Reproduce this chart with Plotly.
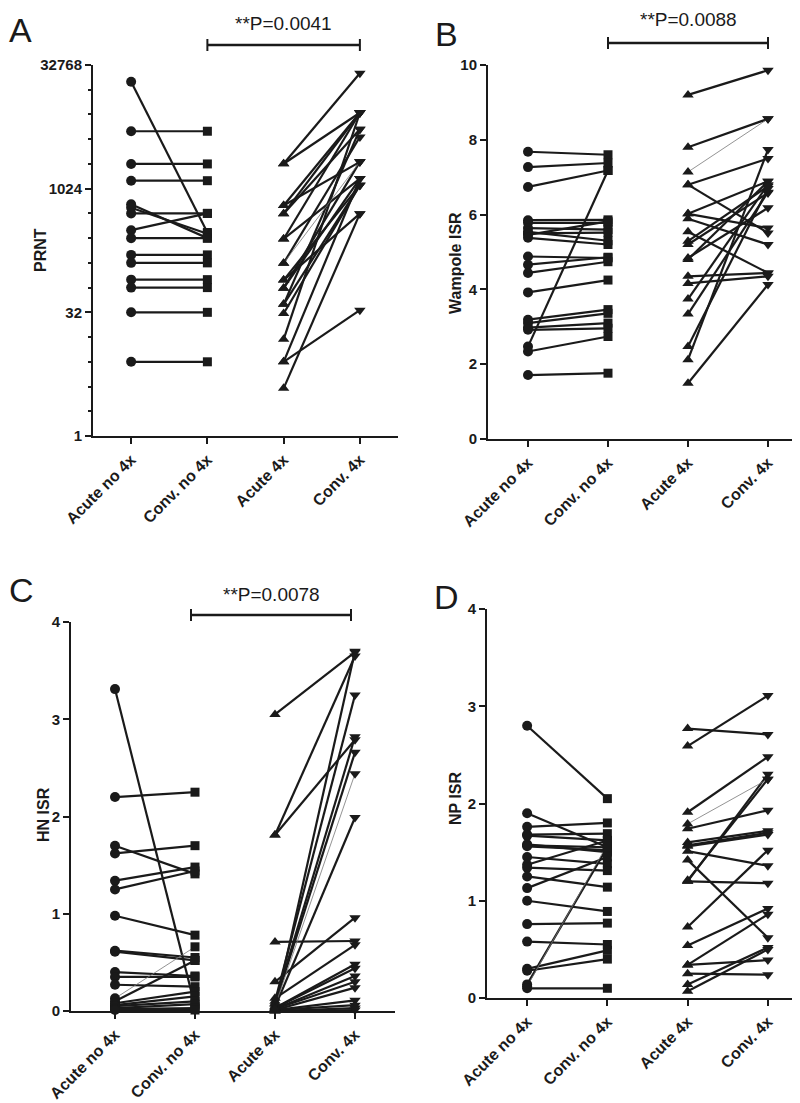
import math
import plotly.graph_objects as go

categories = ["Acute no 4x", "Conv. no 4x", "Acute 4x", "Conv. 4x"]

# ---------------- Panel A: PRNT ----------------
prnt_acute_no4x = [20480, 5120, 2048, 1280, 660, 600, 512, 320, 256, 160, 128, 80, 64, 32, 8]
prnt_conv_no4x = [300, 5120, 2048, 1280, 256, 290, 512, 512, 256, 160, 128, 80, 64, 32, 8]
prnt_acute_4x = [2060, 2060, 640, 640, 508, 508, 250, 250, 127, 127, 79, 79, 63, 63, 40, 40, 31, 15, 8, 8, 3.8]
prnt_conv_4x = [26000, 8600, 8600, 2170, 8600, 5400, 8600, 1360, 4360, 2170, 1130, 508, 2170, 1360, 5400, 1130, 1130, 8600, 34, 1360, 508]
prnt_ticks = [1, 32, 1024, 32768]

# ---------------- Panel B: Wampole ISR ----------------
wam_acute_no4x = [7.68, 7.27, 6.74, 5.85, 5.78, 5.64, 5.54, 5.50, 5.46, 5.38, 4.88, 4.66, 4.44, 3.92, 3.19, 3.10, 2.98, 2.92, 2.47, 2.34, 1.71]
wam_conv_no4x = [7.60, 7.38, 7.18, 5.86, 5.78, 5.60, 5.30, 5.52, 5.82, 5.20, 4.84, 4.86, 4.74, 4.25, 3.46, 3.36, 3.10, 2.96, 7.18, 2.74, 1.76]
wam_acute_4x = [9.20, 7.80, 7.14, 6.80, 6.80, 6.02, 6.02, 5.89, 5.54, 5.29, 5.20, 4.84, 4.80, 4.35, 4.16, 3.74, 3.34, 2.47, 2.12, 1.49]
wam_conv_4x = [9.86, 8.56, 8.56, 7.50, 5.51, 6.89, 5.64, 5.20, 4.44, 6.76, 6.58, 6.18, 6.89, 4.44, 4.35, 6.80, 6.60, 6.70, 7.74, 4.13]
wam_ticks = [0, 2, 4, 6, 8, 10]

# ---------------- Panel C: HN ISR ----------------
hn_acute_no4x = [3.31, 2.20, 1.70, 1.62, 1.34, 1.25, 0.98, 0.62, 0.61, 0.40, 0.35, 0.27, 0.13, 0.10, 0.08, 0.06, 0.05, 0.03, 0.02, 0.01]
hn_conv_no4x = [0.05, 2.25, 1.41, 1.70, 1.48, 1.44, 0.78, 0.55, 0.52, 0.36, 0.35, 0.25, 0.66, 0.52, 0.20, 0.15, 0.10, 0.07, 0.03, 0.01]
hn_acute_4x = [3.05, 1.81, 1.81, 0.71, 0.30, 0.13, 0.10, 0.08, 0.07, 0.05, 0.04, 0.03, 0.03, 0.02, 0.02, 0.01, 0.01, 0.01, 0.00, 0.00, 0.02]
hn_conv_4x = [3.69, 3.65, 2.79, 0.72, 0.96, 0.68, 3.25, 2.82, 2.66, 2.44, 1.99, 0.48, 0.44, 0.36, 0.30, 0.24, 0.11, 0.06, 0.03, 0.01, 3.70]
hn_ticks = [0, 1, 2, 3, 4]

# ---------------- Panel D: NP ISR ----------------
np_acute_no4x = [2.80, 1.90, 1.76, 1.68, 1.67, 1.58, 1.57, 1.56, 1.45, 1.37, 1.34, 1.25, 1.13, 1.00, 0.76, 0.58, 0.30, 0.28, 0.14, 0.12, 0.10]
np_conv_no4x = [2.05, 1.55, 1.80, 1.69, 1.62, 1.50, 1.55, 1.52, 1.38, 1.62, 1.31, 1.14, 1.45, 0.89, 0.77, 0.55, 0.49, 0.40, 1.55, 1.58, 0.10]
np_acute_4x = [2.77, 2.59, 1.91, 1.79, 1.74, 1.60, 1.57, 1.56, 1.51, 1.42, 1.21, 1.20, 1.20, 0.73, 0.54, 0.34, 0.34, 0.25, 0.14, 0.07]
np_conv_4x = [2.71, 3.11, 2.48, 2.25, 1.93, 1.72, 1.70, 1.68, 1.36, 0.62, 2.25, 2.30, 1.18, 1.52, 0.92, 0.86, 0.39, 0.24, 0.52, 0.50]
np_ticks = [0, 1, 2, 3, 4]

titles = ["PRNT", "Wampole ISR", "HN ISR", "NP ISR"]
panel_letters = ["A", "B", "C", "D"]
p_values = ["**P=0.0041", "**P=0.0088", "**P=0.0078", None]

# thin (grey) connecting lines, by pair index: (no4x list, 4x list)
thin_pairs = [([], [9]), ([], [2]), ([12], [9]), ([19], [3])]

W, H = 800, 1103
INK = "#1a1a1a"
FONT = "Liberation Sans, Arial, sans-serif"


def px(x):
    return x / W


def py(y):
    return 1 - y / H


# panel geometry in pixels: (x0, x1, ytop, ybottom, xrange_left)
geom = [
    (85, 390, 57, 428, -0.5),
    (480, 800, 57, 431, -0.5),
    (63, 387, 614, 1003, -0.55),
    (479, 800, 601, 990, -0.5),
]

panels = [
    (prnt_acute_no4x, prnt_conv_no4x, prnt_acute_4x, prnt_conv_4x),
    (wam_acute_no4x, wam_conv_no4x, wam_acute_4x, wam_conv_4x),
    (hn_acute_no4x, hn_conv_no4x, hn_acute_4x, hn_conv_4x),
    (np_acute_no4x, np_conv_no4x, np_acute_4x, np_conv_4x),
]

symbols = ["circle", "square", "triangle-up", "triangle-down"]
msizes = [10, 9, 10, 10]

fig = go.Figure()

for p, (a0, c0, a1, c1) in enumerate(panels):
    xa = "x" if p == 0 else f"x{p+1}"
    ya = "y" if p == 0 else f"y{p+1}"
    groups = [(0, 1, a0, c0, thin_pairs[p][0]), (2, 3, a1, c1, thin_pairs[p][1])]
    for i0, i1, acute, conv, thin in groups:
        xs, ys, xt, yt = [], [], [], []
        for k, (va, vc) in enumerate(zip(acute, conv)):
            if k in thin:
                xt += [i0, i1, None]
                yt += [va, vc, None]
            else:
                xs += [i0, i1, None]
                ys += [va, vc, None]
        fig.add_trace(go.Scatter(x=xs, y=ys, mode="lines", xaxis=xa, yaxis=ya,
                                 line=dict(color=INK, width=2.2), hoverinfo="skip",
                                 showlegend=False, cliponaxis=False))
        if xt:
            fig.add_trace(go.Scatter(x=xt, y=yt, mode="lines", xaxis=xa, yaxis=ya,
                                     line=dict(color="#777777", width=0.8), hoverinfo="skip",
                                     showlegend=False, cliponaxis=False))
        for idx, vals in ((i0, acute), (i1, conv)):
            fig.add_trace(go.Scatter(x=[idx] * len(vals), y=vals, mode="markers",
                                     xaxis=xa, yaxis=ya, showlegend=False, cliponaxis=False,
                                     marker=dict(symbol=symbols[idx], size=msizes[idx],
                                                 color=INK, line=dict(width=0))))

layout = dict(
    width=W, height=H, margin=dict(l=0, r=0, t=0, b=0, autoexpand=False),
    paper_bgcolor="white", plot_bgcolor="white", showlegend=False,
    font=dict(family=FONT, color=INK),
)

xtickfont = dict(family=FONT, size=16, color=INK, weight="bold")
ytickfont = dict(family=FONT, size=15, color=INK, weight="bold")
ytick_sets = [prnt_ticks, wam_ticks, hn_ticks, np_ticks]

annotations = []
shapes = []

for p in range(4):
    x0, x1, yt, yb, xl = geom[p]
    xkey = "xaxis" if p == 0 else f"xaxis{p+1}"
    ykey = "yaxis" if p == 0 else f"yaxis{p+1}"
    anchor_y = "y" if p == 0 else f"y{p+1}"
    anchor_x = "x" if p == 0 else f"x{p+1}"
    layout[xkey] = dict(
        domain=[px(x0), px(x1)], anchor=anchor_y, range=[xl, 3.5], automargin=False,
        tickmode="array", tickvals=[0, 1, 2, 3], ticktext=categories, tickangle=-45,
        showline=True, linecolor=INK, linewidth=2, ticks="outside", ticklen=6,
        tickwidth=2, tickcolor=INK, showgrid=False, zeroline=False, tickfont=xtickfont,
    )
    yax = dict(
        domain=[py(yb), py(yt)], anchor=anchor_x, automargin=False,
        showline=True, linecolor=INK, linewidth=2, ticks="outside", ticklen=6,
        tickwidth=2, tickcolor=INK, showgrid=False, zeroline=False, tickfont=ytickfont,
        tickmode="array", tickvals=ytick_sets[p], ticktext=[str(v) for v in ytick_sets[p]],
    )
    if p == 0:
        yax.update(type="log", range=[0, math.log10(32768)],
                   minor=dict(tickvals=[2 ** k for k in range(1, 15) if k % 5 != 0],
                              ticks="outside", ticklen=3, tickwidth=1.5, tickcolor=INK))
    elif p == 1:
        yax.update(range=[0, 10])
    else:
        yax.update(range=[0, 4])
    layout[ykey] = yax

# panel letters
letter_pos = [(12, 22), (438, 26), (13, 582), (438, 589)]
for L, (lx, ly) in zip(panel_letters, letter_pos):
    annotations.append(dict(text=L, x=px(lx), y=py(ly), xref="paper", yref="paper",
                            showarrow=False, xanchor="center", yanchor="middle",
                            font=dict(family=FONT, size=34, color=INK)))

# axis titles
title_pos = [(33, 242), (447, 255), (35, 807), (447, 790)]
for t, (tx, ty) in zip(titles, title_pos):
    annotations.append(dict(text=t, x=px(tx), y=py(ty), xref="paper", yref="paper",
                            showarrow=False, textangle=-90, xanchor="center", yanchor="middle",
                            font=dict(family=FONT, size=16, color=INK, weight="bold")))

# significance brackets
bracket = [(37, 15, 1, 3), (35, 12, 1, 3), (607, 586, 0.95, 2.95)]
for p, (by, ty, bx0, bx1) in enumerate(bracket):
    xref = "x" if p == 0 else f"x{p+1}"
    shapes.append(dict(type="line", xref=xref, yref="paper", x0=bx0, x1=bx1,
                       y0=py(by), y1=py(by), line=dict(color=INK, width=2.5)))
    for bx in (bx0, bx1):
        shapes.append(dict(type="line", xref=xref, yref="paper", x0=bx, x1=bx,
                           y0=py(by - 6), y1=py(by + 6), line=dict(color=INK, width=2)))
    annotations.append(dict(text=p_values[p], xref=xref, yref="paper", x=(bx0 + bx1) / 2,
                            y=py(ty), showarrow=False, xanchor="center", yanchor="middle",
                            font=dict(family=FONT, size=19, color=INK)))

layout["annotations"] = annotations
layout["shapes"] = shapes
fig.update_layout(**layout)

fig.write_html("out.html")
